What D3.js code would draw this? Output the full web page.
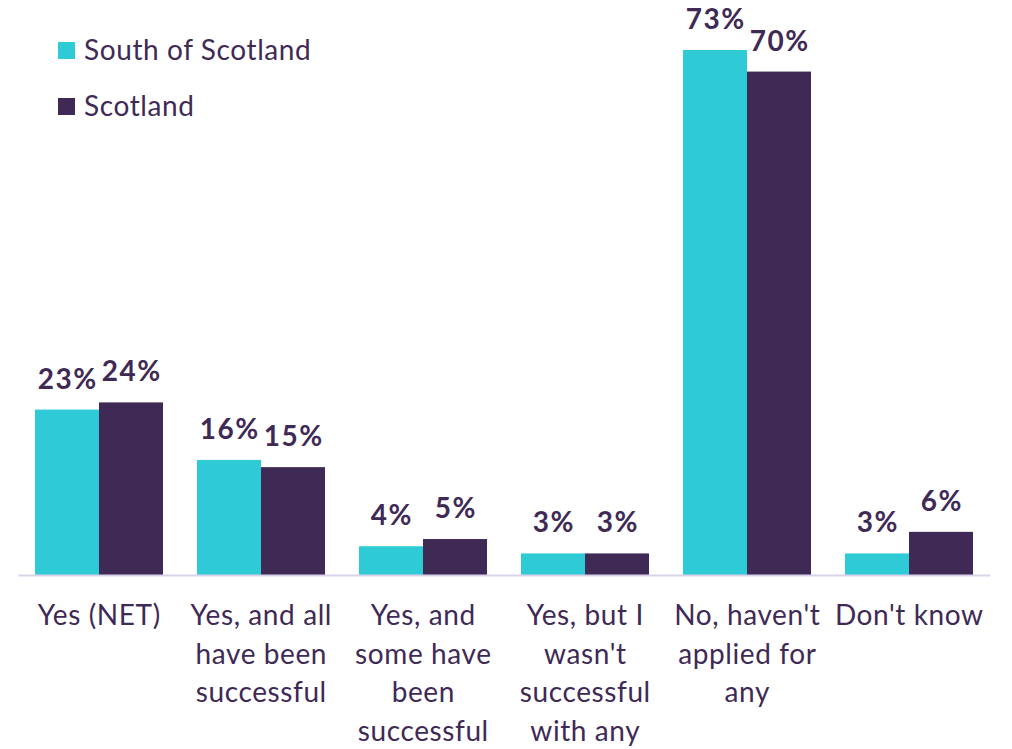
<!DOCTYPE html>
<html>
<head>
<meta charset="utf-8">
<script src="https://cdn.jsdelivr.net/npm/d3@7"></script>
<style>
  html, body { margin: 0; padding: 0; background: #fff; }
  svg { display: block; font-family: Lato, "Open Sans", sans-serif; }
</style>
</head>
<body>
<svg id="chart" width="1012" height="749"></svg>
<script>
// Survey responses: share applying for funding, by area
const categories = ["Yes (NET)", "Yes, and all have been successful", "Yes, and some have been successful",
  "Yes, but I wasn't successful with any", "No, haven't applied for any", "Don't know"];
const categoryLines = [
  ["Yes (NET)"],
  ["Yes, and all", "have been", "successful"],
  ["Yes, and", "some have", "been", "successful"],
  ["Yes, but I", "wasn't", "successful", "with any"],
  ["No, haven't", "applied for", "any"],
  ["Don't know"]
];
const seriesNames = ["South of Scotland", "Scotland"];
const southOfScotland = [23, 16, 4, 3, 73, 3];
const scotland = [24, 15, 5, 3, 70, 6];
const seriesColors = ["#2ECAD5", "#3F2A56"];

const textColor = "#3F2A56";
const svg = d3.select("#chart");

const baseline = 575;
const x0 = d3.scaleBand().domain(categories).range([18, 990]).paddingInner(0.21).paddingOuter(0.105);
const x1 = d3.scaleBand().domain(seriesNames).range([0, x0.bandwidth()]);
const y = d3.scaleLinear().domain([0, 73]).range([baseline, 50]);

const rows = categories.map((c, i) => ({ cat: c, values: [southOfScotland[i], scotland[i]] }));

const groups = svg.append("g").selectAll("g").data(rows).join("g")
  .attr("transform", d => `translate(${x0(d.cat)},0)`);

groups.selectAll("rect").data(d => d.values.map((v, j) => ({ v, s: seriesNames[j], j })))
  .join("rect")
  .attr("x", d => x1(d.s))
  .attr("y", d => y(d.v))
  .attr("width", x1.bandwidth())
  .attr("height", d => baseline - y(d.v))
  .attr("fill", d => seriesColors[d.j]);

// value labels (letter-spacing also trails the last glyph, so nudge right by half of it)
const valSpacing = 1.5;
groups.selectAll("text.val").data(d => d.values.map((v, j) => ({ v, s: seriesNames[j], j })))
  .join("text")
  .attr("class", "val")
  .attr("x", d => x1(d.s) + x1.bandwidth() / 2 + valSpacing / 2)
  .attr("y", d => y(d.v) - 21)
  .attr("text-anchor", "middle")
  .attr("font-size", 28)
  .attr("font-weight", 700)
  .attr("letter-spacing", valSpacing)
  .attr("fill", textColor)
  .text(d => d.v + "%");

// baseline axis
const xAxis = d3.axisBottom(x0).tickSize(0).tickFormat("");
const axisG = svg.append("g").attr("transform", `translate(0,${baseline})`).call(xAxis);
axisG.select(".domain").attr("stroke", "#D9D2E9").attr("stroke-width", 2);

// category labels
const labels = svg.append("g").selectAll("text").data(categories).join("text")
  .attr("text-anchor", "middle")
  .attr("font-size", 28)
  .attr("letter-spacing", 0.6)
  .attr("fill", textColor)
  .attr("x", d => x0(d) + x0.bandwidth() / 2)
  .attr("y", 625);
labels.each(function (d, i) {
  d3.select(this).selectAll("tspan").data(categoryLines[i]).join("tspan")
    .attr("x", x0(d) + x0.bandwidth() / 2 + 0.3)
    .attr("dy", (l, k) => k === 0 ? 0 : 38.7)
    .text(l => l);
});

// legend
const legend = svg.append("g").selectAll("g").data(seriesNames).join("g")
  .attr("transform", (d, i) => `translate(58,${42 + i * 56})`);
legend.append("rect").attr("width", 17).attr("height", 17).attr("fill", (d, i) => seriesColors[i]);
legend.append("text").attr("x", 26).attr("y", 17.5)
  .attr("font-size", 28).attr("letter-spacing", 0.6).attr("fill", textColor).text(d => d);
</script>
</body>
</html>
